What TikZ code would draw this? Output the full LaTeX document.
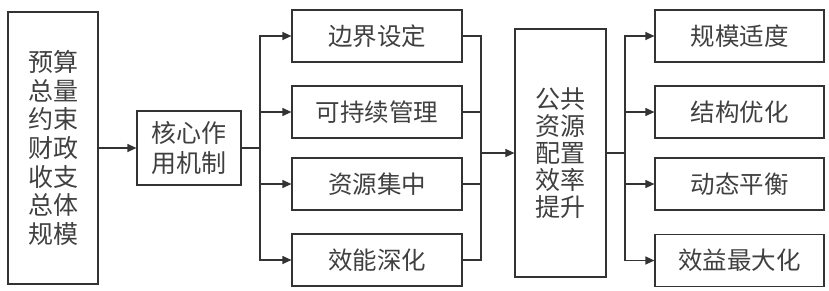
\documentclass[tikz,border=0pt]{standalone}
\usepackage{fontspec}
\newfontfamily\cjk{Noto Sans CJK SC}
\usetikzlibrary{arrows.meta}
\definecolor{ln}{HTML}{333333}
\definecolor{tx}{HTML}{404040}
\tikzset{
  box/.style={draw=ln, line width=1.2pt, rectangle, inner sep=0pt, align=center, text=tx,
    font=\cjk\fontsize{24.5}{27.5}\selectfont},
  link/.style={draw=ln, line width=1.2pt},
  arr/.style={link, -{Triangle[length=9pt,width=8pt]}}
}
\begin{document}
\begin{tikzpicture}[x=1pt,y=-1pt]
\useasboundingbox (0,0) rectangle (829,290);
\node[box, minimum width=90pt, minimum height=272pt, font=\cjk\fontsize{25}{28.7}\selectfont] (left) at (53,148) {预算\\总量\\约束\\财政\\收支\\总体\\规模};
\node[box, minimum width=104pt, minimum height=74pt, font=\cjk\fontsize{25}{30}\selectfont] (core) at (189,148) {核心作\\用机制};
\node[box, minimum width=170pt, minimum height=52pt] (m1) at (377,36) {边界设定};
\node[box, minimum width=170pt, minimum height=52pt] (m2) at (377,112) {可持续管理};
\node[box, minimum width=170pt, minimum height=52pt] (m3) at (377,184) {资源集中};
\node[box, minimum width=170pt, minimum height=52pt] (m4) at (377,260) {效能深化};
\node[box, minimum width=91pt, minimum height=248pt, font=\cjk\fontsize{25}{27}\selectfont] (pub) at (560.5,153) {公共\\资源\\配置\\效率\\提升};
\node[box, minimum width=169pt, minimum height=52pt] (r1) at (739.5,36) {规模适度};
\node[box, minimum width=169pt, minimum height=52pt] (r2) at (739.5,112) {结构优化};
\node[box, minimum width=169pt, minimum height=52pt] (r3) at (739.5,184) {动态平衡};
\node[box, minimum width=169pt, minimum height=52pt] (r4) at (739.5,260.5) {效益最大化};
\coordinate (b) at (260,148);
\coordinate (j) at (481,153);
\coordinate (k) at (625,153);
\draw[arr] (left.east) -- (core.west);
\draw[link] (core.east) -- (b);
\foreach \n in {m1,m2,m3,m4} {\draw[arr] (b) |- (\n.west);}
\foreach \n in {m1,m2,m3,m4} {\draw[link] (\n.east) -| (j);}
\draw[arr] (j) -- (pub.west);
\draw[link] (pub.east) -- (k);
\foreach \n in {r1,r2,r3,r4} {\draw[arr] (k) |- (\n.west);}
\end{tikzpicture}
\end{document}
